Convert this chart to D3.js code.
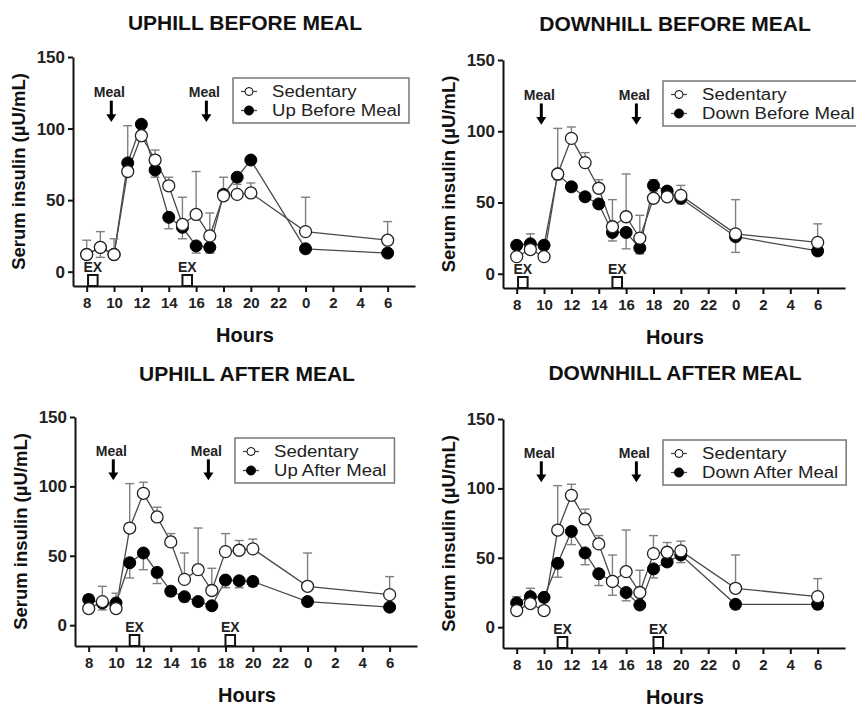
<!DOCTYPE html>
<html>
<head>
<meta charset="utf-8">
<script src="https://cdn.jsdelivr.net/npm/d3@7"></script>
<style>
  html, body { margin: 0; padding: 0; background: #fff; }
  svg { display: block; font-family: "Liberation Sans", Arial, Helvetica, sans-serif; }
</style>
</head>
<body>
<svg id="chart" width="856" height="707"></svg>
<script>
// ---------- DATA ----------
const hours = [8, 9, 10, 11, 12, 13, 14, 15, 16, 17, 18, 19, 20, 24, 30];
const xTickValues = [8, 10, 12, 14, 16, 18, 20, 22, 24, 26, 28, 30];
const xTickLabels = ["8", "10", "12", "14", "16", "18", "20", "22", "0", "2", "4", "6"];
const yTickValues = [0, 50, 100, 150];

const sedentary    = [12, 17, 12, 70, 95, 78, 60, 33, 40, 25, 53, 54, 55, 28, 22];
const sedentaryErr = [22, 28, 23, 102, 103, 85, 66, 52, 70, 41, 66, 61, 62, 52, 35];

const upBefore     = [12, 17, 12, 76, 103, 71, 38, 31, 18, 17, 54, 66, 78, 16, 13];
const upBeforeErr  = [9, 10, 9, 72, 100, 66, 30, 23, 13, 13, 50, 63, 75, 13, 11];

const downBefore    = [20, 21, 20, 70, 61, 54, 49, 29, 29, 18, 62, 58, 53, 26, 16];
const downBeforeErr = [17, 18, 17, 66, 58, 51, 46, 23, 17.5, 14, 58, 55, 49, 15, 13];

const upAfter      = [18.5, 16, 16, 45, 52, 38, 24.5, 20.5, 17, 14, 32.5, 32, 31.5, 17, 13];
const upAfterErr   = [15, 11, 13, 34, 40, 30, 21, 17, 14, 11, 27, 27, 28, 14, 10];

const downAfter    = [17.5, 22, 21.5, 46, 69, 53.5, 38.5, 33, 25, 16, 42, 47, 52, 16.5, 16.5];
const downAfterErr = [14, 18, 18, 36, 59.5, 45, 30, 23, 19, 13, 35.5, 44, 46.5, 13, 13];

const titles = ["UPHILL BEFORE MEAL", "DOWNHILL BEFORE MEAL", "UPHILL AFTER MEAL", "DOWNHILL AFTER MEAL"];
const seriesNames = ["Up Before Meal", "Down Before Meal", "Up After Meal", "Down After Meal"];
const sedentaryName = "Sedentary";
const mealHours = [9.8, 16.75];
const exBeforeMeal = [[8.1, 8.8], [15.0, 15.7]];
const exAfterMeal  = [[11.0, 11.7], [18.0, 18.7]];

// ---------- LAYOUT ----------
const panels = [
  { left: 73,  right: 415, top: 57,  bottom: 286, yMin: -10, titleY: 30,  vals: upBefore,   errs: upBeforeErr,   ex: exBeforeMeal },
  { left: 503, right: 845, top: 60,  bottom: 288, yMin: -10, titleY: 31,  vals: downBefore, errs: downBeforeErr, ex: exBeforeMeal },
  { left: 75,  right: 417, top: 417, bottom: 646, yMin: -15, titleY: 381, vals: upAfter,    errs: upAfterErr,    ex: exAfterMeal },
  { left: 503, right: 845, top: 419, bottom: 648, yMin: -15, titleY: 380, vals: downAfter,  errs: downAfterErr,  ex: exAfterMeal }
];

const svg = d3.select("#chart");
const lineColor = "#4a4a4a";
const errColor = "#808080";

panels.forEach((p, i) => {
  const g = svg.append("g");
  const x = d3.scaleLinear().domain([7, 32]).range([p.left, p.right]);
  const y = d3.scaleLinear().domain([p.yMin, 150]).range([p.bottom, p.top]);
  const cx = (p.left + p.right) / 2;

  // title
  g.append("text").attr("x", cx + 1).attr("y", p.titleY)
    .attr("text-anchor", "middle").attr("font-size", 21).attr("font-weight", "bold")
    .attr("fill", "#111").text(titles[i]);

  // axes
  const yAxis = d3.axisLeft(y).tickValues(yTickValues).tickSize(5).tickSizeOuter(0).tickPadding(3);
  const yg = g.append("g").attr("transform", `translate(${p.left},0)`).call(yAxis);
  yg.select(".domain").attr("stroke", "#111").attr("stroke-width", 2);
  yg.selectAll(".tick line").attr("stroke", "#111").attr("stroke-width", 2);
  yg.selectAll(".tick text").attr("font-size", 17).attr("font-weight", "bold")
    .attr("fill", "#222").attr("font-family", "Liberation Sans, Arial, sans-serif");

  const xAxis = d3.axisBottom(x).tickValues(xTickValues)
    .tickFormat((d, k) => xTickLabels[k]).tickSize(6).tickSizeOuter(0).tickPadding(5);
  const xg = g.append("g").attr("transform", `translate(0,${p.bottom})`).call(xAxis);
  xg.select(".domain").attr("stroke", "#111").attr("stroke-width", 2);
  xg.selectAll(".tick line").attr("stroke", "#111").attr("stroke-width", 2);
  xg.selectAll(".tick text").attr("font-size", 15).attr("font-weight", "bold")
    .attr("fill", "#222").attr("font-family", "Liberation Sans, Arial, sans-serif");

  // axis labels
  g.append("text").attr("x", cx + 1).attr("y", p.bottom + 56)
    .attr("text-anchor", "middle").attr("font-size", 20).attr("font-weight", "bold")
    .attr("fill", "#111").text("Hours");
  const ly = (p.top + p.bottom) / 2;
  g.append("text").attr("transform", `translate(${p.left - 48},${ly}) rotate(-90)`)
    .attr("text-anchor", "middle").attr("font-size", 18.5).attr("font-weight", "bold")
    .attr("fill", "#111").text("Serum insulin (µU/mL)");

  // meal arrows
  mealHours.forEach(h => {
    const ax = x(h);
    g.append("text").attr("x", ax - 2).attr("y", y(122)).attr("text-anchor", "middle")
      .attr("font-size", 14).attr("font-weight", "bold").attr("fill", "#222").text("Meal");
    g.append("line").attr("x1", ax).attr("x2", ax).attr("y1", y(119.5)).attr("y2", y(109))
      .attr("stroke", "#000").attr("stroke-width", 3);
    const tipY = y(104.5), baseY = y(110);
    g.append("path").attr("d", `M${ax - 5},${baseY} L${ax + 5},${baseY} L${ax},${tipY} Z`).attr("fill", "#000");
  });

  // exercise boxes
  p.ex.forEach(([s, e]) => {
    const x0 = x(s), x1 = x(e);
    g.append("rect").attr("x", x0).attr("y", p.bottom - 11).attr("width", x1 - x0).attr("height", 11)
      .attr("fill", "#fff").attr("stroke", "#111").attr("stroke-width", 2);
    g.append("text").attr("x", (x0 + x1) / 2).attr("y", p.bottom - 14).attr("text-anchor", "middle")
      .attr("font-size", 14).attr("font-weight", "bold").attr("fill", "#222").text("EX");
  });

  const line = d3.line().x((d, k) => x(hours[k])).y(d => y(d));

  // lines
  g.append("path").datum(p.vals).attr("d", line).attr("fill", "none")
    .attr("stroke", lineColor).attr("stroke-width", 1.3);
  g.append("path").datum(sedentary).attr("d", line).attr("fill", "none")
    .attr("stroke", lineColor).attr("stroke-width", 1.3);

  // error bars
  function errBars(vals, errs) {
    vals.forEach((v, k) => {
      const xx = x(hours[k]);
      g.append("line").attr("x1", xx).attr("x2", xx).attr("y1", y(v)).attr("y2", y(errs[k]))
        .attr("stroke", errColor).attr("stroke-width", 1.4);
      g.append("line").attr("x1", xx - 4.5).attr("x2", xx + 4.5).attr("y1", y(errs[k])).attr("y2", y(errs[k]))
        .attr("stroke", errColor).attr("stroke-width", 1.4);
    });
  }
  errBars(p.vals, p.errs);
  errBars(sedentary, sedentaryErr);

  // markers
  g.selectAll(".filled").data(p.vals).enter().append("circle")
    .attr("cx", (d, k) => x(hours[k])).attr("cy", d => y(d)).attr("r", 6)
    .attr("fill", "#000").attr("stroke", "#000").attr("stroke-width", 1);
  g.selectAll(".open").data(sedentary).enter().append("circle")
    .attr("cx", (d, k) => x(hours[k])).attr("cy", d => y(d)).attr("r", 6)
    .attr("fill", "#fff").attr("stroke", "#222").attr("stroke-width", 1.3);

  // legend
  const lx = p.left + 160, lt = p.top + 21;
  const leg = g.append("g");
  const box = leg.append("rect").attr("x", lx).attr("y", lt).attr("height", 45)
    .attr("fill", "#fff").attr("stroke", "#777").attr("stroke-width", 1.5);
  const items = [{ name: sedentaryName, fill: "#fff", dy: 13.5, r: 4 }, { name: seriesNames[i], fill: "#000", dy: 32.5, r: 4.5 }];
  let maxW = 0;
  items.forEach(it => {
    const yy = lt + it.dy;
    leg.append("line").attr("x1", lx + 8).attr("x2", lx + 24).attr("y1", yy).attr("y2", yy)
      .attr("stroke", lineColor).attr("stroke-width", 1.3);
    leg.append("circle").attr("cx", lx + 16).attr("cy", yy).attr("r", it.r)
      .attr("fill", it.fill).attr("stroke", "#000").attr("stroke-width", 1);
    const t = leg.append("text").attr("x", lx + 39).attr("y", yy + 5.5)
      .attr("font-size", 16).attr("fill", "#222").text(it.name);
    const w = t.node().getComputedTextLength() * 1.16;
    t.attr("textLength", w).attr("lengthAdjust", "spacingAndGlyphs");
    maxW = Math.max(maxW, w);
  });
  box.attr("width", 39 + maxW + 8);
});
</script>
</body>
</html>
